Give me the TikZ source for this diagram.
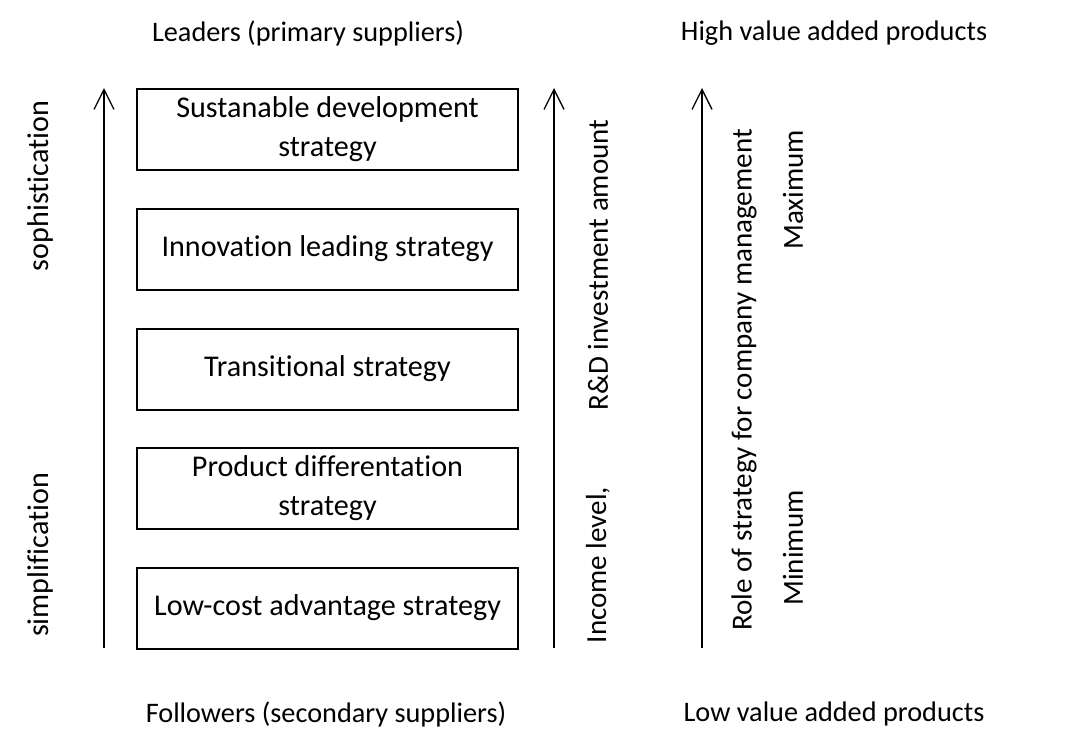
\documentclass[tikz,border=0pt]{standalone}
\usepackage{fontspec}
\setmainfont{Carlito}[Ligatures={NoCommon}]
\usetikzlibrary{arrows.meta}
\begin{document}
\begin{tikzpicture}[x=0.75pt,y=-0.75pt,
  every node/.style={font=\fontsize{21.2}{30}\selectfont, inner sep=0pt},
  stratbox/.style={draw, line width=1.5pt, minimum width=381*0.75pt, minimum height=81*0.75pt,
    align=center, font=\fontsize{22.6}{29.5}\selectfont},
  axis/.style={line width=1pt, -{Straight Barb[length=15pt,width=15pt,line width=1pt]}},
  sidelabel/.style={rotate=90, anchor=center, font=\fontsize{21.8}{30}\selectfont},
  leftlabel/.style={sidelabel, font=\fontsize{22.6}{30}\selectfont}]
\useasboundingbox (0,0) rectangle (1065,729);

% headings
\node (lead) at (308,33) {Leaders (primary suppliers)};
\node (high) at (834,33) {High value added products};
\node (foll) at (326,714) {Followers (secondary suppliers)};
\node (low)  at (834,714) {Low value added products};

% strategy boxes
\node[stratbox] (s1) at (327.5,129) {Sustanable development\\strategy};
\node[stratbox] (s2) at (327.5,249) {Innovation leading strategy};
\node[stratbox] (s3) at (327.5,369) {Transitional strategy};
\node[stratbox] (s4) at (327.5,488) {Product differentation\\strategy};
\node[stratbox] (s5) at (327.5,608) {Low-cost advantage strategy};

% vertical axes
\coordinate (a1b) at (104,648); \coordinate (a1t) at (104,88);
\coordinate (a2b) at (554,648); \coordinate (a2t) at (554,88);
\coordinate (a3b) at (702,648); \coordinate (a3t) at (702,88);
\draw[axis] (a1b) -- (a1t);
\draw[axis] (a2b) -- (a2t);
\draw[axis] (a3b) -- (a3t);

% axis labels
\node[leftlabel] (soph) at (40,186) {sophistication};
\node[leftlabel] (simp) at (40,555) {simplification};
\node[sidelabel] (rd)   at (598,265) {R\&D investment amount};
\node[sidelabel] (inc)  at (598,565) {Income level,};
\node[sidelabel] (role) at (744,380) {Role of strategy for company management};
\node[sidelabel] (max)  at (793,190) {Maximum};
\node[sidelabel] (min)  at (793,548) {Minimum};
\end{tikzpicture}
\end{document}
